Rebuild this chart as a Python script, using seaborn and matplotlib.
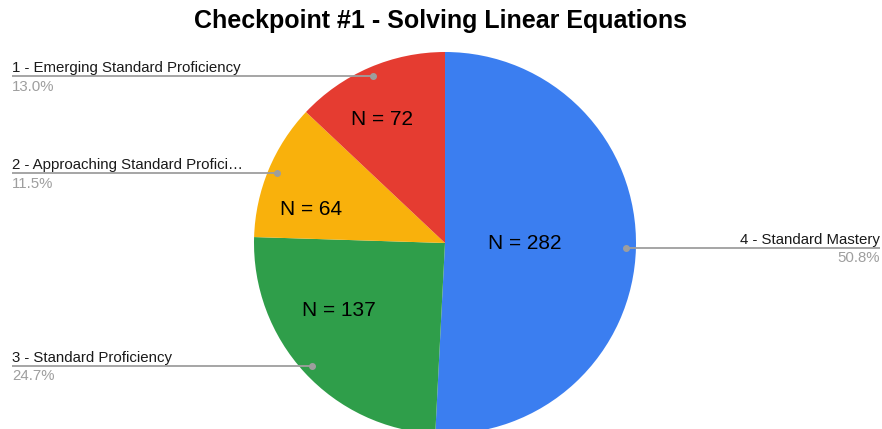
import numpy as np
import matplotlib
matplotlib.use("Agg")
import matplotlib.pyplot as plt
import seaborn as sns

# ---- data ----
categories = ["4 - Standard Mastery", "3 - Standard Proficiency",
              "2 - Approaching Standard Profici\u2026", "1 - Emerging Standard Proficiency"]
counts = [282, 137, 64, 72]
pct_labels = ["50.8%", "24.7%", "11.5%", "13.0%"]
colors = ["#3b7ef0", "#2f9e4a", "#f9b10c", "#e53c31"]
title = "Checkpoint #1 - Solving Linear Equations"

sns.set_theme(style="white")
plt.rcParams["font.family"] = ["Liberation Sans", "DejaVu Sans"]

W, H = 882, 429
fig = plt.figure(figsize=(W / 100, H / 100), dpi=100)
ax = fig.add_axes([0, 0, 1, 1])

cx, cy, R = 445, H - 243, 191
wedges, _ = ax.pie(counts, colors=colors, startangle=90, counterclock=False,
                   center=(cx, cy), radius=R, frame=False,
                   wedgeprops=dict(linewidth=0))
ax.set_xlim(0, W)
ax.set_ylim(0, H)
ax.set_aspect("equal")
ax.axis("off")

# inside "N = x" labels: (angle offset deg, radial fraction) per slice for layout
inner_pos = [(0.5, 0.42), (-10, 0.66), (9, 0.72), (4, 0.72)]
for w, n, (doff, f) in zip(wedges, counts, inner_pos):
    mid = np.deg2rad((w.theta1 + w.theta2) / 2 + doff)
    ax.text(cx + R * f * np.cos(mid), cy + R * f * np.sin(mid) + 1, f"N = {n}",
            ha="center", va="center", fontsize=15, color="black")

# leader lines and outer labels
gray = "#9e9e9e"
for w, cat, pct in zip(wedges, categories, pct_labels):
    mid = np.deg2rad((w.theta1 + w.theta2) / 2)
    px = cx + R * 0.95 * np.cos(mid)
    py = cy + R * 0.95 * np.sin(mid)
    if np.cos(mid) >= 0:
        xend, ha = 880, "right"
    else:
        xend, ha = 12, "left"
    ax.plot([px, xend], [py, py], color=gray, lw=1.3, solid_capstyle="butt")
    ax.plot([px], [py], "o", color=gray, ms=4)
    ax.text(xend, py + 1, cat, ha=ha, va="bottom", fontsize=10.8, color="#1a1a1a")
    ax.text(xend, py - 3.5, pct, ha=ha, va="top", fontsize=10.8, color=gray)

fig.text(0.5, 1 - 21 / H, title, ha="center", va="center",
         fontsize=18, fontweight="bold", color="black")

fig.savefig("out.png", dpi=100)
